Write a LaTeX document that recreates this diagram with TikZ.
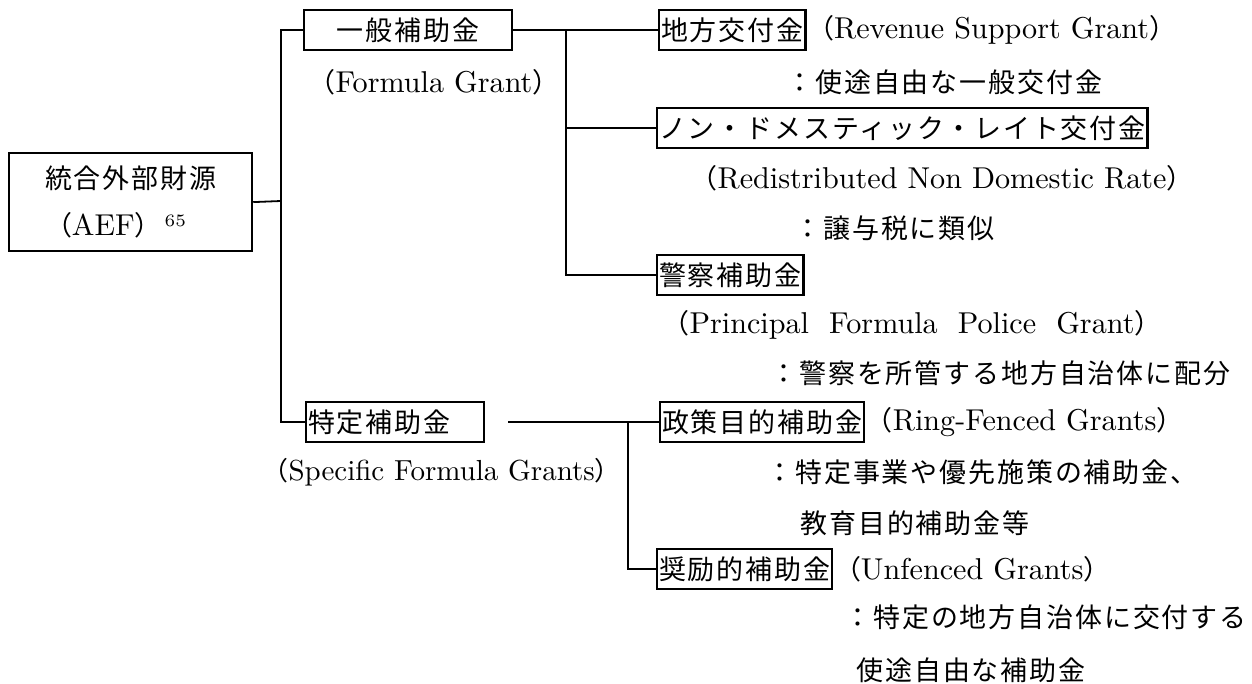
\documentclass[tikz,border=0pt]{standalone}
\usepackage{fontspec}
\newfontfamily\cjk[Scale=0.894,LetterSpace=7]{Noto Sans CJK JP}
\newcommand\J[1]{{\cjk #1}}
\begin{document}
\begin{tikzpicture}[x=0.3448pt,y=-0.3448pt,
  every node/.style={font=\fontsize{10.4}{16.2}\selectfont, inner sep=0pt},
  box/.style={draw, line width=0.76pt, inner xsep=0.69pt, minimum height=13.8pt, anchor=west},
  lbl/.style={anchor=west},
  conn/.style={line width=0.62pt}]
\useasboundingbox (0,0) rectangle (1252,684);

% boxes
\node[draw, line width=0.76pt, minimum width=83.8pt, minimum height=33.8pt, align=left, anchor=north west] (root) at (8,152)
  {\J{統合外部財源}\\\J{（}AEF\J{）}\hspace{1pt}{\fontsize{6}{6}\selectfont\raisebox{3pt}{65}}};
\node[box, minimum width=71.7pt] (g1) at (303,30) {\J{一般補助金}};
\node[box] (chi) at (658,30) {\J{地方交付金}};
\node[box] (non) at (656,128) {\J{ノン・ドメスティック・レイト交付金}};
\node[box] (kei) at (656,275) {\J{警察補助金}};
\node[box] (s1) at (305,422) {\makebox[60pt][l]{\J{特定補助金}}};
\node[box] (sei) at (659,422) {\J{政策目的補助金}};
\node[box] (sho) at (656,569) {\J{奨励的補助金}};

% labels
\node[lbl] (fg) at (308,82) {\J{（}Formula Grant\J{）}};
\node[lbl] (rsg) at (chi.east) {\J{（}Revenue Support Grant\J{）}};
\node[lbl] (d1) at (786,82) {\J{：使途自由な一般交付金}};
\node[lbl] (rnd) at (690,178) {\J{（}Redistributed Non Domestic Rate\J{）}};
\node[lbl] (d2) at (794,228) {\J{：譲与税に類似}};
\node[lbl] (ppg) at (662,325) {\J{（}Principal\ \ Formula\ \ Police\ \ Grant\J{）}};
\node[lbl] (d3) at (770,373) {\J{：警察を所管する地方自治体に配分}};
\node[lbl, font=\fontsize{10}{16.2}\selectfont] (sfg) at (262,472) {\J{（}Specific Formula Grants\J{）}};
\node[lbl] (rfg) at (sei.east) {\J{（}Ring-Fenced Grants\J{）}};
\node[lbl] (d4) at (766,472) {\J{：特定事業や優先施策の補助金、}};
\node[lbl] (d5) at (800,523) {\J{教育目的補助金等}};
\node[lbl] (ufg) at (sho.east) {\J{（}Unfenced Grants\J{）}};
\node[lbl] (d6) at (844,617) {\J{：特定の地方自治体に交付する}};
\node[lbl] (d7) at (856,670) {\J{使途自由な補助金}};

% connectors
\coordinate (j1) at (281,201);
\draw[conn] (root.east) -- (j1);
\draw[conn] (g1.west) -| (j1);
\draw[conn] (s1.west) -| (j1);
\draw[conn] (g1.east) -- (chi.west);
\coordinate (j2) at (566,30);
\draw[conn] (j2) |- (non.west);
\draw[conn] (j2) |- (kei.west);
\coordinate (s1r) at (508,422);
\draw[conn] (s1r) -- (sei.west);
\coordinate (j3) at (628,422);
\draw[conn] (j3) |- (sho.west);
\end{tikzpicture}
\end{document}
